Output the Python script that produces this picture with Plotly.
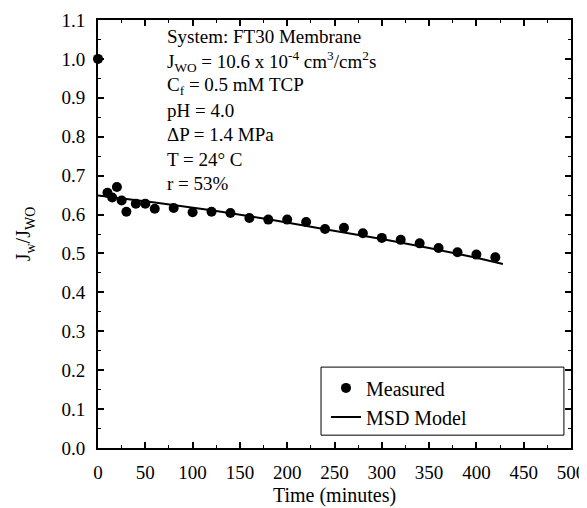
import plotly.graph_objects as go

# Measured data
time_meas = [0, 10, 15, 20, 25, 30, 40, 50, 60, 80, 100, 120, 140, 160, 180,
             200, 220, 240, 260, 280, 300, 320, 340, 360, 380, 400, 420]
flux_meas = [1.0, 0.656, 0.644, 0.671, 0.636, 0.607, 0.628, 0.628, 0.615, 0.617,
             0.606, 0.607, 0.604, 0.591, 0.587, 0.587, 0.581, 0.563, 0.566, 0.552,
             0.540, 0.535, 0.526, 0.514, 0.503, 0.497, 0.490]

# MSD model
time_model = [0, 60, 120, 180, 240, 300, 350, 400, 428]
flux_model = [0.649, 0.631, 0.611, 0.588, 0.562, 0.537, 0.514, 0.489, 0.473]

info_lines = [
    "System: FT30 Membrane",
    "J<sub>WO</sub> = 10.6 x 10<sup>-4</sup> cm<sup>3</sup>/cm<sup>2</sup>s",
    "C<sub>f</sub> = 0.5 mM TCP",
    "pH = 4.0",
    "\u0394P = 1.4 MPa",
    "T = 24\u00b0 C",
    "r = 53%",
]

FONT = "Liberation Serif"

fig = go.Figure()
fig.add_trace(go.Scatter(x=time_meas, y=flux_meas, mode="markers", name="Measured",
                         marker=dict(color="black", size=10), cliponaxis=False))
fig.add_trace(go.Scatter(x=time_model, y=flux_model, mode="lines", name="MSD Model",
                         line=dict(color="black", width=2)))

annots = []
for i, t in enumerate(info_lines):
    annots.append(dict(x=71, y=1.057 - i * 0.063, xref="x", yref="y", text=t,
                       showarrow=False, xanchor="left", yanchor="middle",
                       font=dict(family=FONT, size=19, color="black")))

axis_common = dict(showline=True, linecolor="black", linewidth=2, mirror="ticks",
                   ticks="inside", ticklen=6, tickwidth=2, tickcolor="black",
                   showgrid=False, zeroline=False, automargin=False,
                   tickfont=dict(family=FONT, size=19, color="black"))

fig.update_layout(
    width=587, height=508,
    margin=dict(l=90, r=24, t=12, b=68),
    paper_bgcolor="white", plot_bgcolor="white",
    font=dict(family=FONT, size=19, color="black"),
    xaxis=dict(range=[0, 500], dtick=50, tick0=0, ticklabelstandoff=6,
               minor=dict(ticks="inside", ticklen=3, dtick=25, tickcolor="black", tickwidth=1),
               title=dict(text="Time (minutes)", font=dict(family=FONT, size=20), standoff=6),
               **axis_common),
    yaxis=dict(range=[0, 1.1], dtick=0.1, tick0=0, tickformat=".1f", ticklabelstandoff=7,
               minor=dict(ticks="inside", ticklen=3, dtick=0.05, tickcolor="black", tickwidth=1),
               title=dict(text="J<sub>w</sub>/J<sub>WO</sub>", font=dict(family=FONT, size=20), standoff=25),
               **axis_common),
    legend=dict(x=0.482, y=0.186, xanchor="left", yanchor="top",
                bgcolor="rgba(0,0,0,0)", borderwidth=0,
                font=dict(family=FONT, size=20, color="black"),
                itemwidth=30, tracegroupgap=0),
    showlegend=True,
    annotations=annots,
    shapes=[dict(type="rect", xref="paper", yref="paper",
                 x0=0.4715, x1=0.985, y0=0.030, y1=0.189,
                 line=dict(color="black", width=1), fillcolor="white", layer="below")],
)

fig.write_html("out.html")
